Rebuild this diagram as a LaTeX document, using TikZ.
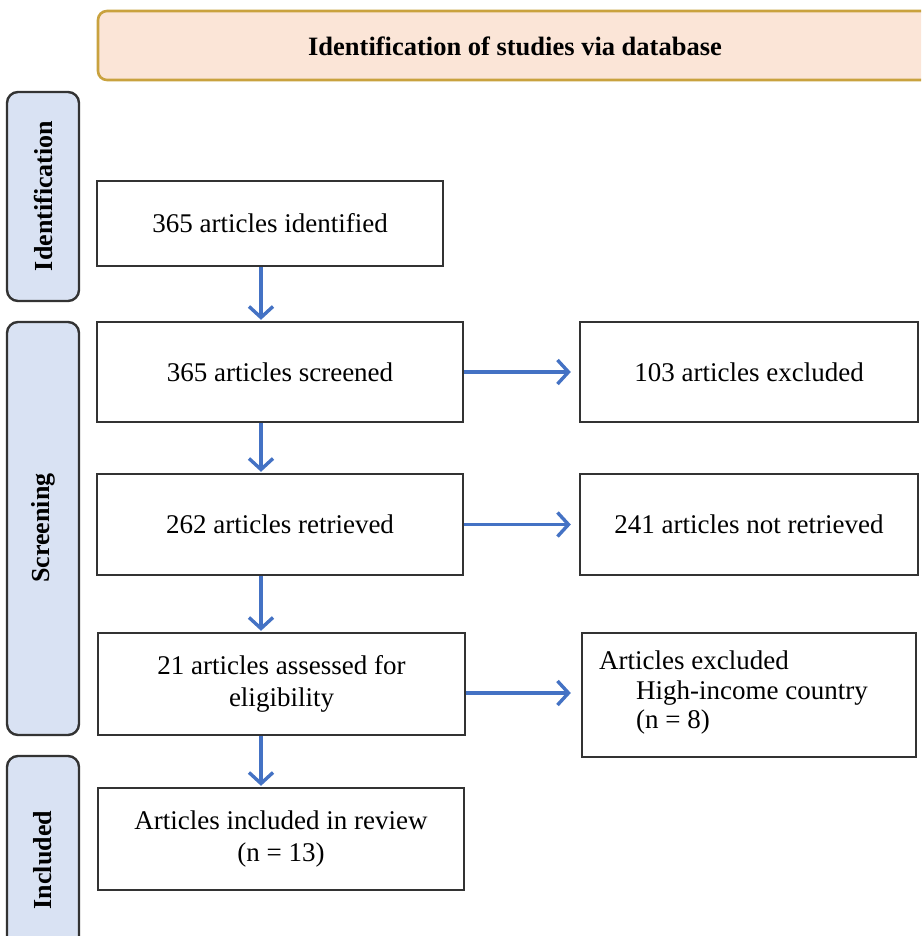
\documentclass[tikz,border=0pt]{standalone}
\usepackage{fontspec}
\setmainfont{Liberation Serif}
\usetikzlibrary{arrows.meta}
\definecolor{hdrfill}{HTML}{FBE5D7}
\definecolor{hdrline}{HTML}{C9A23E}
\definecolor{sidefill}{HTML}{D9E2F3}
\definecolor{boxline}{HTML}{333333}
\definecolor{arrblue}{HTML}{4472C4}
\begin{document}
\begin{tikzpicture}[x=1pt,y=-1pt,
  flowbox/.style={draw=boxline, line width=2.4pt, fill=white, inner sep=0pt, align=center,
    font=\fontsize{27}{32}\selectfont},
  sidebox/.style={draw=boxline, line width=2.4pt, fill=sidefill, rounded corners=11pt},
  sidelabel/.style={rotate=90, font=\fontsize{26}{30}\selectfont\bfseries},
  arr/.style={draw=arrblue, line width=3.4pt, -{Straight Barb[length=11pt,width=24pt,line width=3.4pt]}}
]
\useasboundingbox (0,0) rectangle (921,936);
\clip (0,0) rectangle (921,936);
\fill[white] (0,0) rectangle (921,936);

% header
\draw[draw=hdrline, line width=2.6pt, fill=hdrfill, rounded corners=9pt] (98,11) rectangle (935,80);
\node[font=\fontsize{26.5}{30}\selectfont\bfseries] (hdr) at (515,46) {Identification of studies via database};

% side boxes
\draw[sidebox] (7,92) rectangle (79,301);
\node[sidelabel] (sid) at (43,196) {Identification};
\draw[sidebox] (7,322) rectangle (79,735);
\node[sidelabel] (ssc) at (43,528) {Screening};
\draw[sidebox] (7,756) rectangle (79,950);
\node[sidelabel] (sin) at (43,860) {Included};

% main boxes
\node[flowbox, minimum width=346pt, minimum height=85pt] (ident) at (270,223.5) {365 articles identified};
\node[flowbox, minimum width=366pt, minimum height=100pt] (screen) at (280,372) {365 articles screened};
\node[flowbox, minimum width=338pt, minimum height=100pt] (excl) at (749,372) {103 articles excluded};
\node[flowbox, minimum width=366pt, minimum height=101pt] (retr) at (280,524.5) {262 articles retrieved};
\node[flowbox, minimum width=338pt, minimum height=101pt] (notretr) at (749,524.5) {241 articles not retrieved};
\node[flowbox, minimum width=367pt, minimum height=102pt] (assess) at (281.5,684) {21 articles assessed for\\eligibility};
\node[flowbox, minimum width=334pt, minimum height=124pt] (excl2) at (749,695) {};
\node[font=\fontsize{27}{29.5}\selectfont, align=left, anchor=north west, inner sep=0pt] (excl2t) at (599,651)
  {Articles excluded\\\hspace*{37pt}High-income country\\\hspace*{37pt}(n = 8)};
\node[flowbox, minimum width=366pt, minimum height=102pt] (incl) at (281,839) {Articles included in review\\(n = 13)};

% connectors
\coordinate (vx) at (261,0);
\draw[arr, shorten >=1pt] (ident.south -| vx) -- (screen.north -| vx);
\draw[arr, shorten >=1pt] (screen.south -| vx) -- (retr.north -| vx);
\draw[arr, shorten >=1pt] (retr.south -| vx) -- (assess.north -| vx);
\draw[arr, shorten >=1pt] (assess.south -| vx) -- (incl.north -| vx);
\draw[arr, shorten >=8pt] (screen.east) -- (excl.west);
\draw[arr, shorten >=8pt] (retr.east) -- (notretr.west);
\coordinate (hy) at (0,693);
\draw[arr, shorten >=10pt] (assess.east |- hy) -- (excl2.west |- hy);
\end{tikzpicture}
\end{document}
